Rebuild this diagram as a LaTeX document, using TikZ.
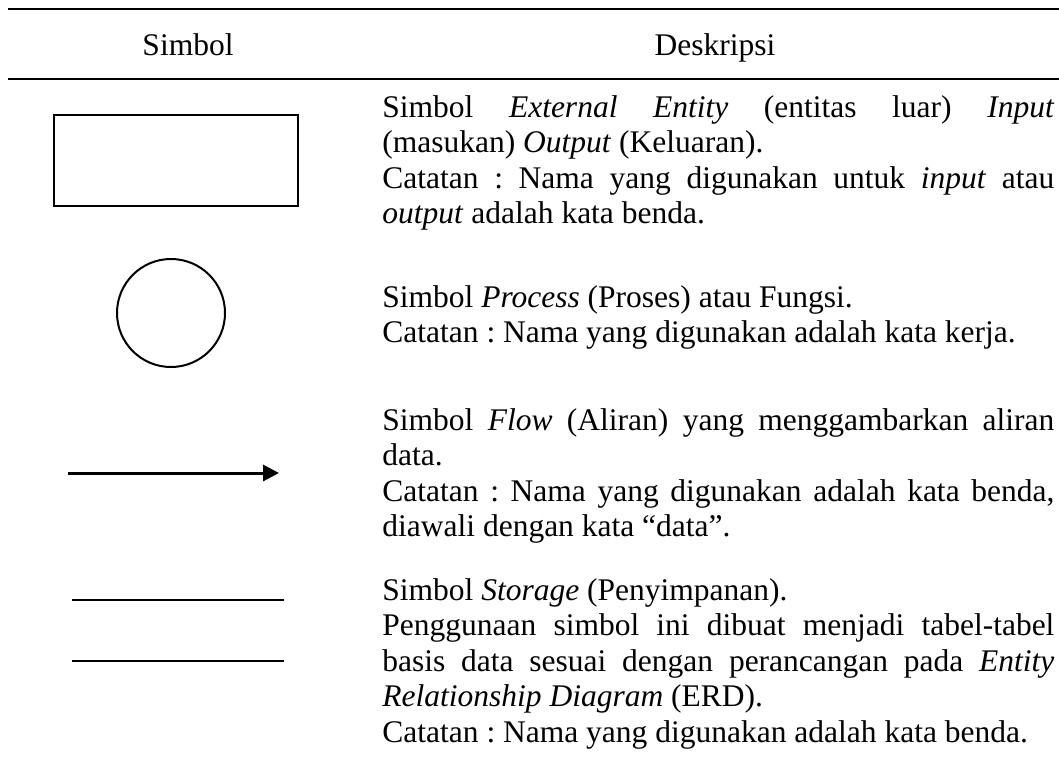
\documentclass[tikz,border=0pt]{standalone}
\usepackage{fontspec}
\setmainfont{Liberation Serif}
\usetikzlibrary{arrows.meta, positioning}
\frenchspacing

\begin{document}
\begin{tikzpicture}[
    x=0.5pt, y=-0.5pt,
    txt/.style={inner sep=0pt, font=\fontsize{15.75}{17.75}\selectfont},
    head/.style={txt, anchor=base},
    desc/.style={txt, anchor=base west, text width=336pt, align=justify},
    rule/.style={line width=1.3pt},
    sym/.style={draw, line width=1pt, inner sep=0pt},
    arr/.style={-{Triangle[length=8pt, width=8pt]}, line width=1.5pt},
  ]
    \useasboundingbox (0,0) rectangle (1059,766);

    % header of the table
    \draw[rule] (8,9) -- (1059,9);
    \node[head] (hsym)  at (188,55) {Simbol};
    \node[head] (hdesc) at (715,55) {Deskripsi};
    \draw[rule] (8,79) -- (1059,79);

    % symbols
    \node[sym, rectangle, minimum width=122pt, minimum height=45.5pt] (entity) at (176,160.5) {};
    \node[sym, circle, minimum size=54pt] (process) at (171,313) {};
    \coordinate (flowa) at (68,473);
    \coordinate (flowb) at (279,473);
    \draw[arr] (flowa) -- (flowb);
    \coordinate (storea) at (72,600);
    \coordinate (storeb) at (284,600);
    \coordinate (storec) at (72,661);
    \coordinate (stored) at (284,661);
    \draw[line width=1.2pt] (storea) -- (storeb);
    \draw[line width=1.2pt] (storec) -- (stored);

    % descriptions
    \node[desc] (dentity) at (382,117) {Simbol \textit{External Entity} (entitas luar) \textit{Input}\linebreak
      (masukan) \textit{Output} (Keluaran).\par
      Catatan : Nama yang digunakan untuk \textit{input} atau\linebreak
      \textit{output} adalah kata benda.};
    \node[desc] (dprocess) at (382,307) {Simbol \textit{Process} (Proses) atau Fungsi.\par
      Catatan : Nama yang digunakan adalah kata kerja.};
    \node[desc] (dflow) at (382,430) {Simbol \textit{Flow} (Aliran) yang menggambarkan aliran\linebreak
      data.\par
      Catatan : Nama yang digunakan adalah kata benda,\linebreak
      diawali dengan kata “data”.};
    \node[desc] (dstore) at (382,600) {Simbol \textit{Storage} (Penyimpanan).\par
      Penggunaan simbol ini dibuat menjadi tabel-tabel\linebreak
      basis data sesuai dengan perancangan pada \textit{Entity}\linebreak
      \textit{Relationship Diagram} (ERD).\par
      Catatan : Nama yang digunakan adalah kata benda.};
  \end{tikzpicture}
\end{document}
